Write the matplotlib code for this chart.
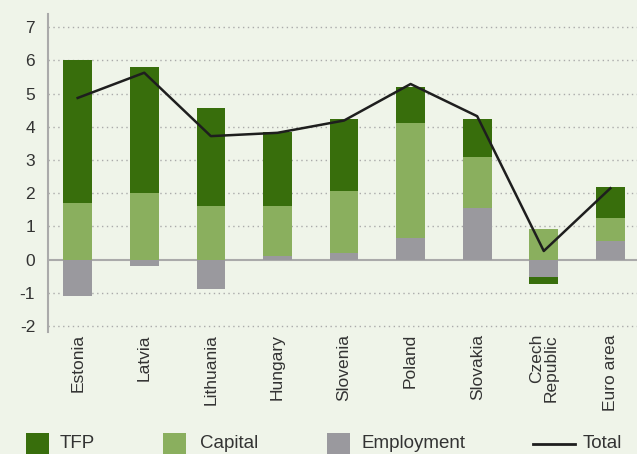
import matplotlib
matplotlib.use("Agg")
import matplotlib.pyplot as plt
from matplotlib.patches import Rectangle
from matplotlib.lines import Line2D
import numpy as np

plt.rcParams['font.family'] = ['Liberation Sans', 'DejaVu Sans']

countries = ["Estonia", "Latvia", "Lithuania", "Hungary", "Slovenia", "Poland",
             "Slovakia", "Czech\nRepublic", "Euro area"]
employment = [-1.10, -0.19, -0.88, 0.10, 0.19, 0.65, 1.55, -0.53, 0.55]
capital = [1.70, 2.00, 1.61, 1.51, 1.87, 3.46, 1.53, 0.91, 0.69]
tfp = [4.30, 3.79, 2.95, 2.23, 2.17, 1.08, 1.17, -0.21, 0.94]
total = [4.87, 5.63, 3.72, 3.82, 4.19, 5.29, 4.32, 0.26, 2.15]
legend_labels = ["TFP", "Capital", "Employment", "Total"]
yticks = [-2, -1, 0, 1, 2, 3, 4, 5, 6, 7]

bg = "#EFF4E9"
c_tfp = "#386E0C"
c_cap = "#8AAF5E"
c_emp = "#9A999E"
c_line = "#1E1E1E"
txt = "#333333"

fig = plt.figure(figsize=(6.37, 4.54), dpi=100)
fig.patch.set_facecolor(bg)
ax = fig.add_axes([47.7 / 637, 1 - 332 / 454, 1 - 47.7 / 637, (332 - 14.3) / 454])
ax.set_facecolor(bg)

x = np.arange(len(countries))
w = 0.43
pos_base = np.zeros(len(x))
neg_base = np.zeros(len(x))
for vals, col in [(employment, c_emp), (capital, c_cap), (tfp, c_tfp)]:
    v = np.array(vals)
    bottoms = np.where(v >= 0, pos_base, neg_base)
    ax.bar(x, v, width=w, bottom=bottoms, color=col, zorder=3, linewidth=0)
    pos_base = pos_base + np.where(v >= 0, v, 0)
    neg_base = neg_base + np.where(v < 0, v, 0)

ax.plot(x, total, color=c_line, lw=1.8, zorder=5)

ax.set_ylim(-2.18, 7.39)
ax.set_xlim(-0.45, len(x) - 1 + 0.40)
ax.set_yticks(yticks)
ax.set_yticklabels([str(t) for t in yticks], fontsize=12.5, color=txt)
ax.tick_params(axis='y', length=0, pad=9)
ax.tick_params(axis='x', length=0, pad=1.5)
ax.set_xticks(x)
ax.set_xticklabels(countries, rotation=90, fontsize=12.5, color=txt,
                   va='top', ha='center', multialignment='right', linespacing=0.95)

for t in yticks:
    if t != 0:
        ax.axhline(t, color="#AAAAAA", lw=1.0, ls=(0, (1, 2.5)), zorder=1)
ax.axhline(0, color="#AAAAAA", lw=1.5, zorder=2)

for s in ["top", "right", "bottom"]:
    ax.spines[s].set_visible(False)
ax.spines["left"].set_color("#AAAAAA")
ax.spines["left"].set_linewidth(1.5)

# Legend drawn manually along the bottom
W, H = 637.0, 454.0
patch_x = [26, 163, 327]
text_x = [60, 200, 362, 583]
ty = 1 - 444 / H
for px, col in zip(patch_x, [c_tfp, c_cap, c_emp]):
    fig.patches.append(Rectangle((px / W, -0.02), 23 / W, (454 - 433) / H + 0.02,
                                 transform=fig.transFigure, color=col, lw=0))
fig.lines.append(Line2D([533 / W, 575 / W], [ty, ty], transform=fig.transFigure,
                        color=c_line, lw=2.0))
for tx, lab in zip(text_x, legend_labels):
    fig.text(tx / W, ty, lab, fontsize=13.5, color=txt, va='center', ha='left')

fig.savefig("out.png", dpi=100, facecolor=bg)
